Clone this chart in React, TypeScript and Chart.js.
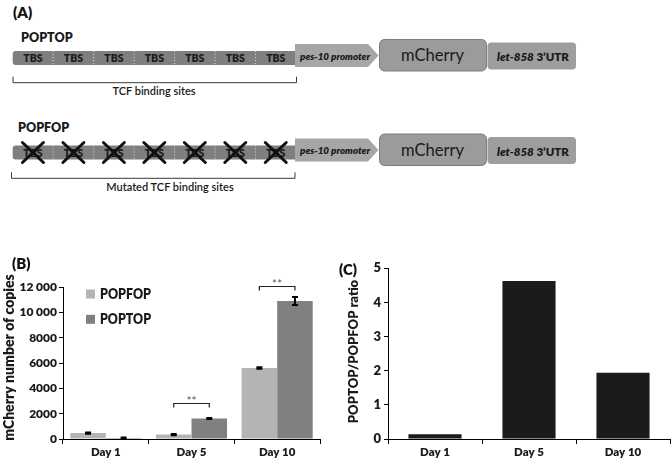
import React, { useEffect, useRef } from 'react';
import { Chart, registerables } from 'chart.js';

Chart.register(...registerables);

// ---------- data ----------
const categories = ['Day 1', 'Day 5', 'Day 10'];
const popfopValues = [470, 350, 5600];
const popfopErrors = [50, 50, 60];
const poptopValues = [80, 1610, 10900];
const poptopErrors = [30, 40, 320];
const significance = ['', '**', '**'];
const bracketLevels = [0, 2870, 12080];
const copiesTicks = [0, 2000, 4000, 6000, 8000, 10000, 12000];
const ratioValues = [0.14, 4.63, 1.94];
const ratioTicks = [0, 1, 2, 3, 4, 5];
const tbsLabels = ['TBS', 'TBS', 'TBS', 'TBS', 'TBS', 'TBS', 'TBS'];

const FONT = 'Lato, "Open Sans", sans-serif';
const HEAVY = 800;
const POPFOP_COLOR = '#b4b4b4';
const POPTOP_COLOR = '#808080';
const RATIO_COLOR = '#1b1b1b';

const fmtCopies = (v: number) =>
  v >= 10000 ? `${Math.floor(v / 1000)} ${String(v % 1000).padStart(3, '0')}` : String(v);

// ---------- panel A ----------
function Construct({ dy, mutated, name, nameX, nameY, caption, captionX, bx0, bx1, by }: any) {
  const x0 = 12.7;
  const x1 = 296;
  const seg = (x1 - x0) / tbsLabels.length;
  return (
    <g>
      <text x={nameX} y={nameY} fontFamily={FONT} fontWeight={HEAVY} fontSize={12.5} fill="#1a1a1a">
        {name}
      </text>
      <rect x={x0} y={51 + dy} width={x1 - x0 + 3} height={14} rx={3} fill="#7f7f7f" />
      {tbsLabels.map((t, i) => (
        <g key={i}>
          {i > 0 && (
            <line
              x1={x0 + seg * i}
              x2={x0 + seg * i}
              y1={51 + dy}
              y2={65 + dy}
              stroke="#d8d8d8"
              strokeWidth={1}
              strokeDasharray="1,2"
            />
          )}
          <text
            x={x0 + seg * (i + 0.5)}
            y={62.3 + dy}
            textAnchor="middle"
            fontFamily={FONT}
            fontWeight={HEAVY}
            fontSize={10.5}
            fill="#1a1a1a"
          >
            {t}
          </text>
          {mutated && (
            <g stroke="#111" strokeWidth={3} strokeLinecap="round">
              <line x1={x0 + seg * (i + 0.5) - 10.5} y1={48 + dy} x2={x0 + seg * (i + 0.5) + 10.5} y2={68 + dy} />
              <line x1={x0 + seg * (i + 0.5) + 10.5} y1={48 + dy} x2={x0 + seg * (i + 0.5) - 10.5} y2={68 + dy} />
            </g>
          )}
        </g>
      ))}
      <polygon
        points={`295,${44 + dy} 368,${44 + dy} 378.5,${55.5 + dy} 368,${67 + dy} 295,${67 + dy}`}
        fill="#a6a6a6"
      />
      <text
        x={300}
        y={59.5 + dy}
        fontFamily={FONT}
        fontWeight={HEAVY}
        fontStyle="italic"
        fontSize={10}
        fill="#1a1a1a"
        textLength={70}
        lengthAdjust="spacingAndGlyphs"
      >
        pes-10 promoter
      </text>
      <rect x={379.5} y={39.5 + dy} width={107} height={31.5} rx={5} fill="#9b9b9b" stroke="#7c7c7c" strokeWidth={1} />
      <text x={432.5} y={61 + dy} textAnchor="middle" fontFamily={FONT} fontSize={16.5} fill="#1a1a1a">
        mCherry
      </text>
      <rect x={487.5} y={42.5 + dy} width={88.5} height={27} rx={4} fill="#9e9e9e" />
      <text x={497} y={61.3 + dy} fontFamily={FONT} fontWeight={HEAVY} fontSize={11.5} fill="#1a1a1a">
        <tspan fontStyle="italic">let-858</tspan>
        <tspan> 3’UTR</tspan>
      </text>
      <g stroke="#3a3a3a" strokeWidth={1} fill="none">
        <polyline points={`${bx0},${by - 6} ${bx0},${by} ${bx1},${by} ${bx1},${by - 6}`} />
      </g>
      <text x={captionX} y={by + 12.5} textAnchor="middle" fontFamily={FONT} fontWeight={600} fontSize={11} fill="#1a1a1a">
        {caption}
      </text>
    </g>
  );
}

function PanelA() {
  return (
    <svg width={672} height={240} style={{ position: 'absolute', left: 0, top: 0 }}>
      <text x={13} y={17.5} fontFamily={FONT} fontWeight={HEAVY} fontSize={15} fill="#111">
        (A)
      </text>
      <Construct dy={0} mutated={false} name="POPTOP" nameX={21} nameY={42} caption="TCF binding sites" captionX={154} bx0={13} bx1={296.5} by={82.7} />
      <Construct dy={94.5} mutated={true} name="POPFOP" nameX={18} nameY={132} caption="Mutated TCF binding sites" captionX={170} bx0={11.5} bx1={295} by={178.3} />
    </svg>
  );
}

// ---------- panel B ----------
function PanelB() {
  const ref = useRef<HTMLCanvasElement>(null);
  useEffect(() => {
    if (!ref.current) return;
    const extras = {
      id: 'bExtras',
      afterDraw(chart: any) {
        const ctx = chart.ctx;
        const y = chart.scales.y;
        const errs = [popfopErrors, poptopErrors];
        ctx.save();
        // error bars
        [0, 1].forEach((di) => {
          const meta = chart.getDatasetMeta(di);
          meta.data.forEach((bar: any, j: number) => {
            const v = chart.data.datasets[di].data[j] as number;
            const e = errs[di][j];
            const x = bar.x;
            const yt = y.getPixelForValue(v + e);
            const yb = y.getPixelForValue(Math.max(0, v - e));
            ctx.strokeStyle = '#000';
            ctx.lineWidth = 2;
            ctx.beginPath();
            ctx.moveTo(x, yt);
            ctx.lineTo(x, yb);
            ctx.moveTo(x - 3, yt);
            ctx.lineTo(x + 3, yt);
            ctx.moveTo(x - 3, yb);
            ctx.lineTo(x + 3, yb);
            ctx.stroke();
          });
        });
        // significance brackets
        categories.forEach((_, j) => {
          if (!significance[j]) return;
          const x1 = chart.getDatasetMeta(0).data[j].x;
          const x2 = chart.getDatasetMeta(1).data[j].x;
          const yb = Math.round(y.getPixelForValue(bracketLevels[j])) + 0.5;
          ctx.strokeStyle = '#222';
          ctx.lineWidth = 1.2;
          ctx.beginPath();
          ctx.moveTo(x1, yb + 4);
          ctx.lineTo(x1, yb);
          ctx.lineTo(x2, yb);
          ctx.lineTo(x2, yb + 4);
          ctx.stroke();
          ctx.fillStyle = '#555';
          ctx.font = `12px ${FONT}`;
          ctx.textAlign = 'center';
          ctx.textBaseline = 'alphabetic';
          ctx.fillText(significance[j], (x1 + x2) / 2, yb + 1);
        });
        // legend
        const items = [
          { label: 'POPFOP', color: POPFOP_COLOR, cy: 54 },
          { label: 'POPTOP', color: POPTOP_COLOR, cy: 79.3 },
        ];
        items.forEach((it) => {
          ctx.fillStyle = it.color;
          ctx.fillRect(86, it.cy - 4.5, 9, 9);
          ctx.fillStyle = '#1a1a1a';
          ctx.font = `${HEAVY} 14px ${FONT}`;
          ctx.textAlign = 'left';
          ctx.textBaseline = 'middle';
          ctx.fillText(it.label, 100, it.cy + 0.5, 51);
        });
        // panel label
        ctx.fillStyle = '#111';
        ctx.font = `${HEAVY} 15px ${FONT}`;
        ctx.textAlign = 'left';
        ctx.textBaseline = 'alphabetic';
        ctx.fillText('(B)', 12, 29);
        // y title
        ctx.save();
        ctx.translate(9, 117.5);
        ctx.rotate(-Math.PI / 2);
        ctx.font = `${HEAVY} 14px ${FONT}`;
        ctx.fillStyle = '#1a1a1a';
        ctx.textAlign = 'center';
        ctx.textBaseline = 'middle';
        ctx.fillText('mCherry number of copies', 0, 0, 176);
        ctx.restore();
        ctx.restore();
      },
    };
    const chart = new Chart(ref.current, {
      type: 'bar',
      data: {
        labels: categories,
        datasets: [
          { label: 'POPFOP', data: popfopValues, backgroundColor: POPFOP_COLOR, categoryPercentage: 0.83, barPercentage: 1 },
          { label: 'POPTOP', data: poptopValues, backgroundColor: POPTOP_COLOR, categoryPercentage: 0.83, barPercentage: 1 },
        ],
      },
      options: {
        responsive: false,
        animation: false,
        events: [],
        layout: { padding: { left: 0, right: 16, top: 47, bottom: 0 } },
        plugins: { legend: { display: false }, tooltip: { enabled: false } },
        scales: {
          x: {
            grid: { drawOnChartArea: false, tickLength: 5, color: '#000' },
            border: { color: '#000', width: 1 },
            ticks: { font: { family: FONT, size: 11.5, weight: HEAVY }, color: '#1a1a1a', padding: 1 },
            afterFit: (s: any) => {
              s.height = 24;
            },
          },
          y: {
            min: 0,
            max: 12000,
            afterBuildTicks: (s: any) => {
              s.ticks = copiesTicks.map((v) => ({ value: v }));
            },
            ticks: {
              callback: (v: any) => fmtCopies(Number(v)),
              font: { family: FONT, size: 12, weight: HEAVY },
              color: '#1a1a1a',
              padding: 2,
            },
            grid: { drawOnChartArea: false, tickLength: 4, color: '#000' },
            border: { color: '#000', width: 1 },
            afterFit: (s: any) => {
              s.width = 63;
            },
          },
        },
      } as any,
      plugins: [extras],
    });
    return () => chart.destroy();
  }, []);
  return <canvas ref={ref} width={336} height={223} style={{ position: 'absolute', left: 0, top: 240, width: 336, height: 223 }} />;
}

// ---------- panel C ----------
function PanelC() {
  const ref = useRef<HTMLCanvasElement>(null);
  useEffect(() => {
    if (!ref.current) return;
    const extras = {
      id: 'cExtras',
      afterDraw(chart: any) {
        const ctx = chart.ctx;
        ctx.save();
        ctx.fillStyle = '#111';
        ctx.font = `${HEAVY} 15px ${FONT}`;
        ctx.textAlign = 'left';
        ctx.textBaseline = 'alphabetic';
        ctx.fillText('(C)', 3, 35);
        ctx.translate(18, 111.5);
        ctx.rotate(-Math.PI / 2);
        ctx.font = `${HEAVY} 13px ${FONT}`;
        ctx.fillStyle = '#1a1a1a';
        ctx.textAlign = 'center';
        ctx.textBaseline = 'middle';
        ctx.fillText('POPTOP/POPFOP ratio', 0, 0, 154);
        ctx.restore();
      },
    };
    const chart = new Chart(ref.current, {
      type: 'bar',
      data: {
        labels: categories,
        datasets: [
          { label: 'ratio', data: ratioValues, backgroundColor: RATIO_COLOR, categoryPercentage: 1, barPercentage: 0.565 },
        ],
      },
      options: {
        responsive: false,
        animation: false,
        events: [],
        layout: { padding: { left: 0, right: 2, top: 28.3, bottom: 0 } },
        plugins: { legend: { display: false }, tooltip: { enabled: false } },
        scales: {
          x: {
            grid: { drawOnChartArea: false, tickLength: 5, color: '#000' },
            border: { color: '#000', width: 1 },
            ticks: { font: { family: FONT, size: 11.5, weight: HEAVY }, color: '#1a1a1a', padding: 1 },
            afterFit: (s: any) => {
              s.height = 24;
            },
          },
          y: {
            min: 0,
            max: 5,
            afterBuildTicks: (s: any) => {
              s.ticks = ratioTicks.map((v) => ({ value: v }));
            },
            ticks: { font: { family: FONT, size: 13, weight: HEAVY }, color: '#1a1a1a', padding: 3 },
            grid: { drawOnChartArea: false, tickLength: 4, color: '#000' },
            border: { color: '#000', width: 1 },
            afterFit: (s: any) => {
              s.width = 52;
            },
          },
        },
      } as any,
      plugins: [extras],
    });
    return () => chart.destroy();
  }, []);
  return <canvas ref={ref} width={336} height={223} style={{ position: 'absolute', left: 336, top: 240, width: 336, height: 223 }} />;
}

export default function App() {
  return (
    <div style={{ position: 'absolute', left: 0, top: 0, width: 672, height: 463, background: '#fff', overflow: 'hidden' }}>
      <PanelA />
      <PanelB />
      <PanelC />
    </div>
  );
}
